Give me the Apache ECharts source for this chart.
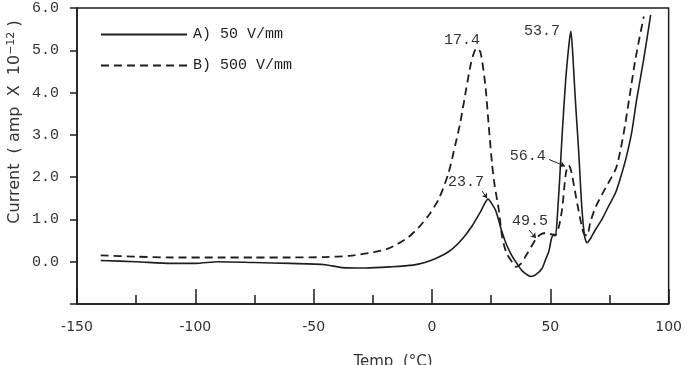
<!DOCTYPE html>
<html>
<head>
<meta charset="utf-8">
<script src="https://cdn.jsdelivr.net/npm/echarts@6/dist/echarts.min.js"></script>
<style>
  html, body { margin: 0; padding: 0; background: #fff; }
  #chart { width: 685px; height: 365px; }
</style>
</head>
<body>
<div id="chart"></div>
<script>
// A) 50 V/mm  (solid)
var tempA = [-140, -125, -110, -100, -90, -75, -60, -45, -38, -28, -17, -8, -3, 0, 4, 8.5, 13, 17, 20.5, 23.7,
  25.5, 27, 29.6, 31.5, 33.8, 36, 38, 40, 41.8, 44, 46.5, 48, 49.4, 50.5, 51.5, 52.2, 53, 54, 55, 56.5, 58, 58.7,
  59.5, 60.5, 62, 63.3, 64.5, 65.5, 67, 69, 71.8, 74.5, 77.7, 80, 82, 84.4, 86.5, 89.5, 92.4];
var currentA = [0.03, 0.0, -0.04, -0.04, 0.0, -0.02, -0.04, -0.07, -0.14, -0.15, -0.12, -0.08, -0.02, 0.04, 0.14, 0.3, 0.55, 0.85, 1.18, 1.48,
  1.35, 1.2, 0.7, 0.4, 0.14, -0.05, -0.21, -0.3, -0.35, -0.3, -0.16, 0.05, 0.25, 0.55, 0.65, 0.62, 1.1, 2.0, 3.0, 4.3, 5.2, 5.45,
  4.9, 3.9, 2.6, 1.3, 0.6, 0.45, 0.55, 0.75, 1.0, 1.3, 1.65, 2.05, 2.45, 3.06, 3.84, 4.8, 5.84];

// B) 500 V/mm (dashed)
var tempB = [-140, -125, -110, -90, -75, -60, -45, -35, -25, -18, -10, -5, -1, 3, 7, 10, 12, 14.5, 16.5, 18, 19,
  20.5, 22.5, 24, 25.4, 26.5, 28.3, 29.6, 31.5, 33.8, 35.5, 37.5, 39.7, 42, 44, 46, 48, 50, 52, 53.5, 55, 56.6, 57.8,
  59, 60.8, 62.9, 64.2, 65.5, 67, 69.2, 73.4, 77.7, 79.5, 81.5, 83.3, 86, 89.5];
var currentB = [0.15, 0.12, 0.1, 0.1, 0.1, 0.1, 0.11, 0.14, 0.22, 0.32, 0.58, 0.85, 1.13, 1.5, 2.1, 2.8, 3.3, 4.1, 4.7, 4.98, 5.05,
  4.95, 4.2, 3.2, 2.3, 1.8, 1.2, 0.6, 0.2, 0.0, -0.12, -0.05, 0.14, 0.36, 0.54, 0.65, 0.68, 0.66, 0.62, 0.8, 1.25, 2.1, 2.28,
  2.1, 1.55, 0.94, 0.66, 0.62, 0.95, 1.3, 1.75, 2.2, 2.6, 3.2, 3.84, 4.8, 5.8];

var seriesNames = ['A) 50 V/mm', 'B) 500 V/mm'];
var xTicks = [-150, -100, -50, 0, 50, 100];
var yTicks = ['0.0', '1.0', '2.0', '3.0', '4.0', '5.0', '6.0'];

// peak labels: [text, temp, current]
var peakA = [['53.7', 58.7, 5.45], ['23.7', 23.7, 1.48]];
var peakB = [['17.4', 19, 5.05], ['56.4', 57.8, 2.28], ['49.5', 44, 0.56]];

function pairs(xs, ys) {
  var out = [];
  for (var i = 0; i < xs.length; i++) out.push([xs[i], ys[i]]);
  return out;
}

var mono = 'Liberation Mono';
var sans = 'DejaVu Sans';
var ink = '#1e1e1e';

var chart = echarts.init(document.getElementById('chart'));

var option = {
  animation: false,
  backgroundColor: '#fff',
  grid: {
    left: 77, right: 15, top: 8, bottom: 61,
    show: true, borderColor: ink, borderWidth: 1.5
  },
  legend: {
    data: seriesNames,
    orient: 'vertical',
    left: 100, top: 27, padding: 0,
    itemWidth: 86, itemHeight: 14, itemGap: 16,
    itemStyle: { opacity: 0 },
    textStyle: { fontFamily: mono, fontSize: 15, color: ink, padding: [0, 0, 0, 1] }
  },
  xAxis: [{
    type: 'value', min: -150, max: 100, interval: 25,
    axisLine: { onZero: false, lineStyle: { color: ink, width: 1.5 } },
    axisTick: { inside: true, length: 9, lineStyle: { color: ink, width: 1.5 } },
    splitLine: { show: false },
    axisLabel: {
      margin: 16, fontFamily: sans, fontSize: 14, color: '#333',
      formatter: function (v) { return xTicks.indexOf(v) >= 0 ? String(v) : ''; }
    }
  }, {
    type: 'value', min: -150, max: 100, interval: 50, position: 'bottom',
    axisLine: { show: false, onZero: false },
    axisTick: { inside: true, length: 15, lineStyle: { color: ink, width: 1.5 } },
    splitLine: { show: false },
    axisLabel: { show: false }
  }],
  yAxis: {
    type: 'value', min: -1, max: 6, interval: 1,
    axisLine: { onZero: false, lineStyle: { color: ink, width: 1.5 } },
    axisTick: { length: 7, lineStyle: { color: ink, width: 1.5 } },
    splitLine: { show: false },
    axisLabel: {
      margin: 18, fontFamily: mono, fontSize: 15, color: '#333',
      formatter: function (v) { return v >= 0 ? yTicks[v] : ''; }
    }
  },
  graphic: [{
    type: 'text', x: 15, y: 122, rotation: Math.PI / 2,
    style: {
      text: 'Current  ( amp  X  10{sup|−12} )',
      font: '16px "DejaVu Sans"', fill: '#333',
      align: 'center', verticalAlign: 'middle',
      rich: { sup: { fontSize: 11, fontFamily: sans, verticalAlign: 'top', padding: [0, 0, 7, 0] } }
    }
  }, {
    type: 'text', x: 393, y: 362,
    style: {
      text: 'Temp  (°C)', font: '15px "DejaVu Sans"', fill: '#333',
      align: 'center', verticalAlign: 'middle'
    }
  }],
  series: [{
    name: seriesNames[0],
    type: 'line',
    data: pairs(tempA, currentA),
    symbol: 'none', smooth: 0.25,
    lineStyle: { color: ink, width: 1.6 },
    itemStyle: { color: ink },
    markPoint: {
      symbol: 'circle', symbolSize: 1, itemStyle: { color: 'rgba(0,0,0,0)' },
      label: { show: true, fontFamily: mono, fontSize: 15, color: '#333' },
      data: [
        { coord: [peakA[0][1], peakA[0][2]], value: peakA[0][0], label: { formatter: peakA[0][0], offset: [-29, 0] } },
        { coord: [peakA[1][1], peakA[1][2]], value: peakA[1][0], label: { formatter: peakA[1][0], offset: [-22, -17] } }
      ]
    },
    markLine: {
      silent: true, symbol: ['none', 'arrow'], symbolSize: 5,
      lineStyle: { color: ink, width: 1, type: 'solid' }, label: { show: false },
      data: [[{ coord: [21.2, 1.67] }, { coord: [23.3, 1.5] }]]
    }
  }, {
    name: seriesNames[1],
    type: 'line',
    data: pairs(tempB, currentB),
    symbol: 'none', smooth: 0.25,
    lineStyle: { color: ink, width: 1.8, type: [8, 5] },
    itemStyle: { color: ink },
    markPoint: {
      symbol: 'circle', symbolSize: 1, itemStyle: { color: 'rgba(0,0,0,0)' },
      label: { show: true, fontFamily: mono, fontSize: 15, color: '#333' },
      data: [
        { coord: [peakB[0][1], peakB[0][2]], value: peakB[0][0], label: { formatter: peakB[0][0], offset: [-15, -8] } },
        { coord: [peakB[1][1], peakB[1][2]], value: peakB[1][0], label: { formatter: peakB[1][0], offset: [-41, -9] } },
        { coord: [peakB[2][1], peakB[2][2]], value: peakB[2][0], label: { formatter: peakB[2][0], offset: [-6, -17] } }
      ]
    },
    markLine: {
      silent: true, symbol: ['none', 'arrow'], symbolSize: 5,
      lineStyle: { color: ink, width: 1, type: 'solid' }, label: { show: false },
      data: [
        [{ coord: [49.4, 2.42] }, { coord: [56.2, 2.26] }],
        [{ coord: [41, 0.75] }, { coord: [43.9, 0.56] }]
      ]
    }
  }]
};

chart.setOption(option);
</script>
</body>
</html>
